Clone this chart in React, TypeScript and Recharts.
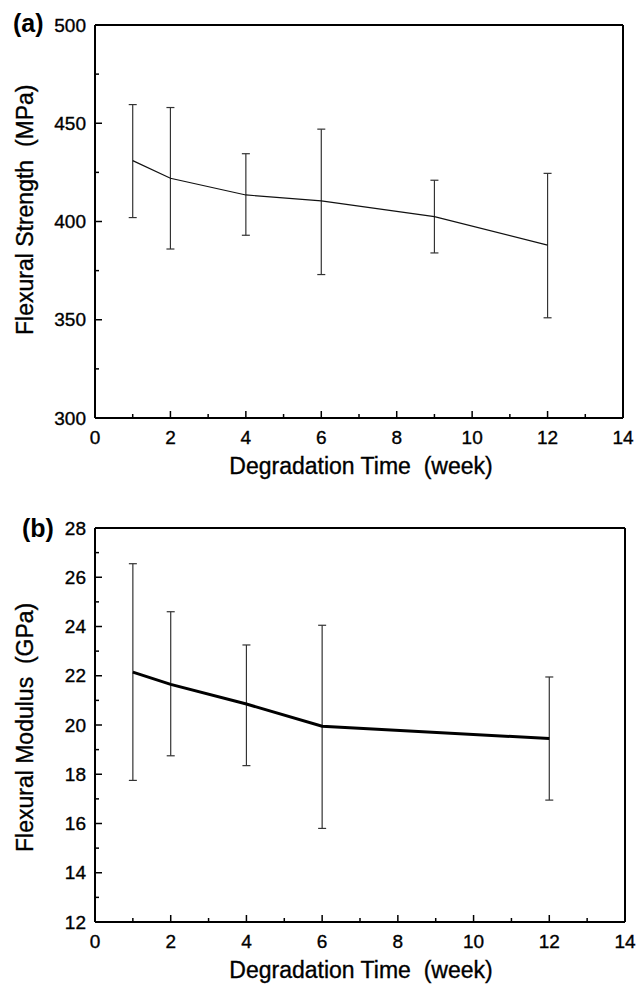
import { LineChart, Line, XAxis, YAxis, ErrorBar, ReferenceLine } from "recharts";

const weeksA = [1, 2, 4, 6, 9, 12];
const strengthMean = [431, 422, 413.5, 410.5, 402.5, 388];
const strengthHigh = [459.5, 458, 434.5, 447, 421, 424.5];
const strengthLow = [402, 386, 393, 373, 384, 351];

const weeksB = [1, 2, 4, 6, 12];
const modulusMean = [22.15, 21.65, 20.85, 19.95, 19.45];
const modulusHigh = [26.55, 24.6, 23.25, 24.05, 21.95];
const modulusLow = [17.75, 18.75, 18.35, 15.8, 16.95];

const weekTicks = [0, 1, 2, 3, 4, 5, 6, 7, 8, 9, 10, 11, 12, 13, 14];
const strengthTicks = [300, 325, 350, 375, 400, 425, 450, 475, 500];
const modulusTicks = [12, 13, 14, 15, 16, 17, 18, 19, 20, 21, 22, 23, 24, 25, 26, 27, 28];

const font = 'Arial, "Liberation Sans", sans-serif';

const dataA = weeksA.map((w, i) => ({
  week: w,
  mean: strengthMean[i],
  err: [strengthMean[i] - strengthLow[i], strengthHigh[i] - strengthMean[i]],
}));

const dataB = weeksB.map((w, i) => ({
  week: w,
  mean: modulusMean[i],
  err: [modulusMean[i] - modulusLow[i], modulusHigh[i] - modulusMean[i]],
}));

// scanned figure text is a bit heavier than plain regular weight
const heavy = { stroke: "#000", strokeWidth: 0.35 };

function XTick(props: any) {
  const { x, y, payload } = props;
  const major = payload.value % 2 === 0;
  return (
    <g>
      <line x1={x} x2={x} y1={y} y2={y - (major ? 7 : 4)} stroke="#000" strokeWidth={1.5} />
      {major && (
        <text x={x} y={y + 26} textAnchor="middle" fontSize={19} fontFamily={font} fill="#000" {...heavy}>
          {payload.value}
        </text>
      )}
    </g>
  );
}

const makeYTick = (base: number, step: number) => (props: any) => {
  const { x, y, payload } = props;
  const major = (payload.value - base) % step === 0;
  return (
    <g>
      <line x1={x} x2={x + (major ? 7 : 4)} y1={y} y2={y} stroke="#000" strokeWidth={1.5} />
      {major && (
        <text x={x - 9} y={y + 6.5} textAnchor="end" fontSize={19} fontFamily={font} fill="#000" {...heavy}>
          {payload.value}
        </text>
      )}
    </g>
  );
};

const titleStyle = { whiteSpace: "pre" as const };

export default function App() {
  return (
    <div style={{ position: "absolute", left: 0, top: 0, width: 636, height: 984, background: "#fff" }}>
      <div style={{ position: "absolute", left: 0, top: 0 }}>
        <LineChart width={636} height={500} data={dataA} margin={{ top: 25, right: 13, bottom: 0, left: 0 }}>
          <XAxis
            dataKey="week"
            type="number"
            domain={[0, 14]}
            ticks={weekTicks}
            interval={0}
            height={82}
            tickSize={0}
            tickMargin={0}
            tick={XTick}
            axisLine={{ stroke: "#000", strokeWidth: 2 }}
          />
          <YAxis
            type="number"
            domain={[300, 500]}
            ticks={strengthTicks}
            interval={0}
            width={95}
            tickSize={0}
            tickMargin={0}
            tick={makeYTick(300, 50)}
            axisLine={{ stroke: "#000", strokeWidth: 2 }}
          />
          <ReferenceLine y={500} stroke="#000" strokeWidth={2} />
          <ReferenceLine x={14} stroke="#000" strokeWidth={2} />
          <Line type="linear" dataKey="mean" stroke="#111" strokeWidth={1.2} dot={false} isAnimationActive={false}>
            <ErrorBar dataKey="err" width={4} stroke="#333" strokeWidth={1.2} direction="y" />
          </Line>
        </LineChart>
      </div>
      <div style={{ position: "absolute", left: 0, top: 500 }}>
        <LineChart width={636} height={484} data={dataB} margin={{ top: 28, right: 11, bottom: 0, left: 0 }}>
          <XAxis
            dataKey="week"
            type="number"
            domain={[0, 14]}
            ticks={weekTicks}
            interval={0}
            height={62}
            tickSize={0}
            tickMargin={0}
            tick={XTick}
            axisLine={{ stroke: "#000", strokeWidth: 2 }}
          />
          <YAxis
            type="number"
            domain={[12, 28]}
            ticks={modulusTicks}
            interval={0}
            width={95}
            tickSize={0}
            tickMargin={0}
            tick={makeYTick(12, 2)}
            axisLine={{ stroke: "#000", strokeWidth: 2 }}
          />
          <ReferenceLine y={28} stroke="#000" strokeWidth={2} />
          <ReferenceLine x={14} stroke="#000" strokeWidth={2} />
          <Line type="linear" dataKey="mean" stroke="#000" strokeWidth={3} dot={false} isAnimationActive={false}>
            <ErrorBar dataKey="err" width={4} stroke="#333" strokeWidth={1.2} direction="y" />
          </Line>
        </LineChart>
      </div>
      <svg width={636} height={984} style={{ position: "absolute", left: 0, top: 0, pointerEvents: "none" }}>
        <g fontFamily={font} fill="#000">
          <text x={13} y={32} fontSize={25} fontWeight="bold">(a)</text>
          <text x={22} y={537} fontSize={25} fontWeight="bold">(b)</text>
          <g {...heavy}>
            <text x={361} y={474} fontSize={23} textAnchor="middle" style={titleStyle}>Degradation Time  (week)</text>
            <text x={361} y={978} fontSize={23} textAnchor="middle" style={titleStyle}>Degradation Time  (week)</text>
            <text x={33} y={335} fontSize={23} transform="rotate(-90 33 335)" style={titleStyle}>Flexural Strength  (MPa)</text>
            <text x={33} y={852} fontSize={23} transform="rotate(-90 33 852)" style={titleStyle}>Flexural Modulus  (GPa)</text>
          </g>
        </g>
      </svg>
    </div>
  );
}
